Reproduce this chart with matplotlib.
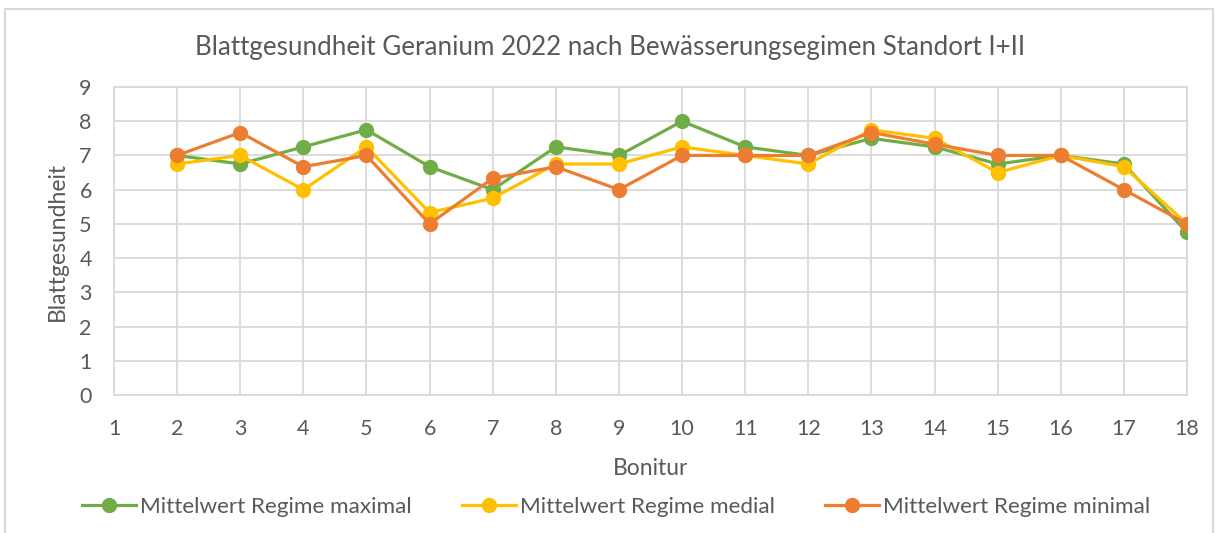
import matplotlib.pyplot as plt
from matplotlib.patches import Rectangle

plt.rcParams['font.family'] = ['Lato', 'DejaVu Sans']

bonitur = list(range(2, 19))
regime_maximal = [7.0, 6.75, 7.25, 7.75, 6.67, 6.0, 7.25, 7.0, 8.0, 7.25, 7.0, 7.5, 7.25, 6.75, 7.0, 6.75, 4.75]
regime_medial = [6.75, 7.0, 6.0, 7.25, 5.33, 5.75, 6.75, 6.75, 7.25, 7.0, 6.75, 7.75, 7.5, 6.5, 7.0, 6.67, 5.0]
regime_minimal = [7.0, 7.67, 6.67, 7.0, 5.0, 6.33, 6.67, 6.0, 7.0, 7.0, 7.0, 7.67, 7.33, 7.0, 7.0, 6.0, 5.0]

text_col = '#595959'
grid_col = '#D9D9D9'

fig = plt.figure(figsize=(12.15, 5.33), dpi=100)
# plot area in pixel coordinates: left 114, right 1187, top 87, bottom 395
W, H = 1215, 533
ax = fig.add_axes([114 / W, 1 - 395 / H, (1187 - 114) / W, (395 - 87) / H])

# chart frame
fig.patches.append(Rectangle((5 / W, -0.05), (1213 - 5) / W, 1 - 9 / H + 0.05,
                             transform=fig.transFigure, fill=False,
                             edgecolor=grid_col, linewidth=1.5))

ax.plot(bonitur, regime_maximal, color='#70AD47', lw=2.3, marker='o', ms=10,
        label='Mittelwert Regime maximal', zorder=3)
ax.plot(bonitur, regime_medial, color='#FFC000', lw=2.3, marker='o', ms=10,
        label='Mittelwert Regime medial', zorder=4)
ax.plot(bonitur, regime_minimal, color='#ED7D31', lw=2.3, marker='o', ms=10,
        label='Mittelwert Regime minimal', zorder=5)

ax.set_xlim(1, 18)
ax.set_ylim(0, 9)
ax.set_xticks(range(1, 19))
ax.set_yticks(range(0, 10))
ax.grid(True, color=grid_col, lw=1.3)
ax.set_axisbelow(True)
for s in ax.spines.values():
    s.set_color(grid_col)
    s.set_linewidth(1.3)
ax.tick_params(length=0, labelsize=15.5, labelcolor=text_col)
ax.tick_params(axis='x', pad=17)
ax.tick_params(axis='y', pad=16)

ax.set_xlabel('Bonitur', fontsize=16.5, color=text_col, labelpad=14)
ax.set_ylabel('Blattgesundheit', fontsize=16.5, color=text_col, labelpad=8)
fig.text(0.502, 1 - 48 / H, 'Blattgesundheit Geranium 2022 nach Bewässerungsegimen Standort I+II',
         ha='center', va='center', fontsize=18.7, color=text_col)

fig.legend(loc='center', bbox_to_anchor=(0.507, 1 - 507 / H), ncol=3, frameon=False,
           fontsize=16.2, labelcolor=text_col, handlelength=2.4, handletextpad=0.2,
           columnspacing=2.2)

fig.savefig('out.png', dpi=100)
